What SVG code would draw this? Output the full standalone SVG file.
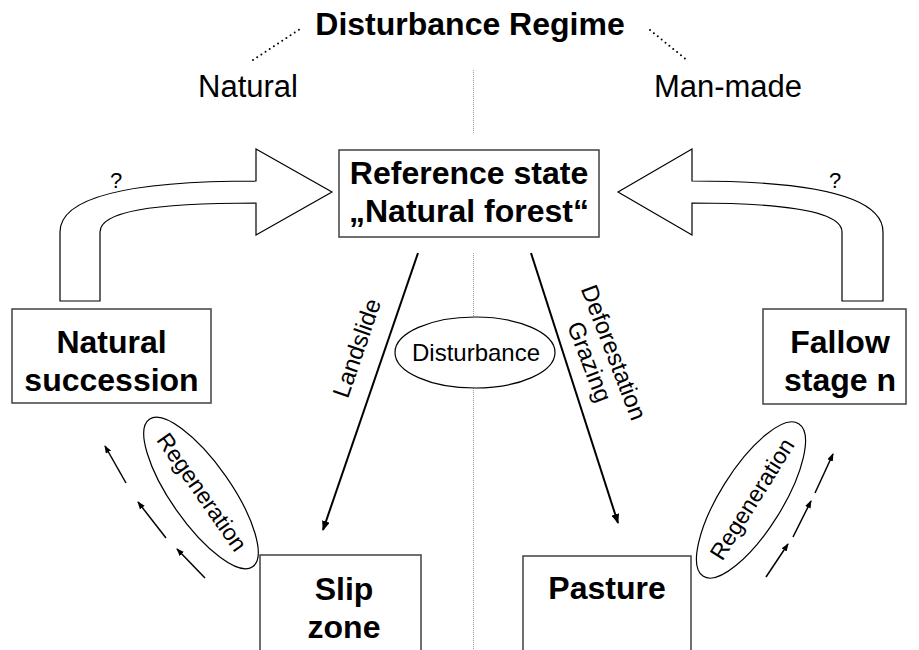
<svg xmlns="http://www.w3.org/2000/svg" width="919" height="650" viewBox="0 0 919 650">
<style>
text{font-family:"Liberation Sans",Arial,sans-serif;fill:#000}
.b{font-weight:bold;font-size:32px}
.r31{font-size:31px}
.r24{font-size:24px}
.r23{font-size:23px}
.q{font-size:22px}
.box{fill:#fff;stroke:#404040;stroke-width:1.5}
.blk{fill:#fff;stroke:#000;stroke-width:1.2;stroke-linejoin:miter}
.ell{fill:#fff;stroke:#000;stroke-width:1.2}
.ln{stroke:#000;stroke-width:2;fill:none}
.sm{stroke:#000;stroke-width:1.5;fill:none}
.dot{stroke:#000;stroke-width:2;stroke-linecap:round;stroke-dasharray:0 5;fill:none}
.gray{stroke:#999;stroke-width:1;stroke-dasharray:1 1;fill:none}
</style>
<defs>
<marker id="ah" markerWidth="10" markerHeight="8" refX="9" refY="4" orient="auto" markerUnits="userSpaceOnUse">
<path d="M0,0 L10,4 L0,8 Z" fill="#000"/>
</marker>
<marker id="ahs" markerWidth="8" markerHeight="6" refX="7" refY="3" orient="auto" markerUnits="userSpaceOnUse">
<path d="M0,0 L8,3 L0,6 Z" fill="#000"/>
</marker>
</defs>
<rect width="919" height="650" fill="#fff"/>

<g id="header">
<text class="b" x="470" y="35" text-anchor="middle">Disturbance Regime</text>
<path class="dot" d="M253,60 L300,29"/>
<path class="dot" d="M650,30 L688,61"/>
<text class="r31" x="248" y="97" text-anchor="middle">Natural</text>
<text class="r31" x="728" y="97" text-anchor="middle">Man-made</text>
</g>

<g id="divider">
<path class="gray" d="M473.5,70 V133 M473.5,253 V317 M473.5,388 V650"/>
</g>

<g id="connectors">
<path class="blk" d="M60,301 L60,232 C60,198 125,181 256,181 L256,149 L332,192 L256,235 L256,203 C150,203 100,212 100,232 L100,301 Z"/>
<path class="blk" d="M883,301 L883,232 C883,198 818,181 692,181 L692,149 L618,192 L692,235 L692,203 C790,203 842,212 842,232 L842,301 Z"/>
<line class="ln" x1="418" y1="253" x2="323" y2="530" marker-end="url(#ah)"/>
<line class="ln" x1="531" y1="253" x2="618" y2="523" marker-end="url(#ah)"/>
<line class="sm" x1="126" y1="483" x2="105" y2="446" marker-end="url(#ahs)"/>
<line class="sm" x1="166" y1="538" x2="138" y2="502" marker-end="url(#ahs)"/>
<line class="sm" x1="205" y1="578" x2="177" y2="549" marker-end="url(#ahs)"/>
<line class="sm" x1="766" y1="577" x2="788" y2="544" marker-end="url(#ahs)"/>
<line class="sm" x1="793" y1="537" x2="811" y2="501" marker-end="url(#ahs)"/>
<line class="sm" x1="815" y1="493" x2="833" y2="454" marker-end="url(#ahs)"/>
<text class="q" x="116" y="188" text-anchor="middle">?</text>
<text class="q" x="835" y="188" text-anchor="middle">?</text>
<text class="r24" transform="translate(357,348) rotate(-71)" x="0" y="8" text-anchor="middle">Landslide</text>
<text class="r24" transform="translate(602,357) rotate(69)" text-anchor="middle"><tspan x="0" y="-4.5">Deforestation</tspan><tspan x="0" y="21.5">Grazing</tspan></text>
</g>

<g id="reference">
<rect class="box" x="339" y="150" width="260" height="87"/>
<text class="b" x="469" y="184" text-anchor="middle">Reference state</text>
<text class="b" x="469" y="222" text-anchor="middle">„Natural forest“</text>
</g>

<g id="disturbance">
<ellipse class="ell" cx="475" cy="352.5" rx="80" ry="35.5"/>
<text class="r24" x="476" y="361" text-anchor="middle">Disturbance</text>
</g>

<g id="natural-succession">
<rect class="box" x="12" y="309" width="199" height="94"/>
<text class="b" x="111.5" y="353" text-anchor="middle">Natural</text>
<text class="b" x="111.5" y="391" text-anchor="middle">succession</text>
</g>

<g id="fallow">
<rect class="box" x="763" y="309" width="143" height="95"/>
<text class="b" x="840" y="353" text-anchor="middle">Fallow</text>
<text class="b" x="840" y="391" text-anchor="middle">stage n</text>
</g>

<g id="regeneration-left">
<ellipse class="ell" cx="201" cy="493" rx="90" ry="30" transform="rotate(55 201 493)"/>
<text class="r23" transform="translate(202,492) rotate(55)" x="0" y="8" text-anchor="middle">Regeneration</text>
</g>

<g id="regeneration-right">
<ellipse class="ell" cx="751" cy="500" rx="90" ry="31" transform="rotate(-58 751 500)"/>
<text class="r23" transform="translate(752,499) rotate(-58)" x="0" y="8" text-anchor="middle">Regeneration</text>
</g>

<g id="slip-zone">
<rect class="box" x="260" y="555" width="161" height="120"/>
<text class="b" x="344" y="600" text-anchor="middle">Slip</text>
<text class="b" x="344" y="638" text-anchor="middle">zone</text>
</g>

<g id="pasture">
<rect class="box" x="523" y="556" width="168" height="120"/>
<text class="b" x="607" y="599" text-anchor="middle">Pasture</text>
</g>
</svg>
